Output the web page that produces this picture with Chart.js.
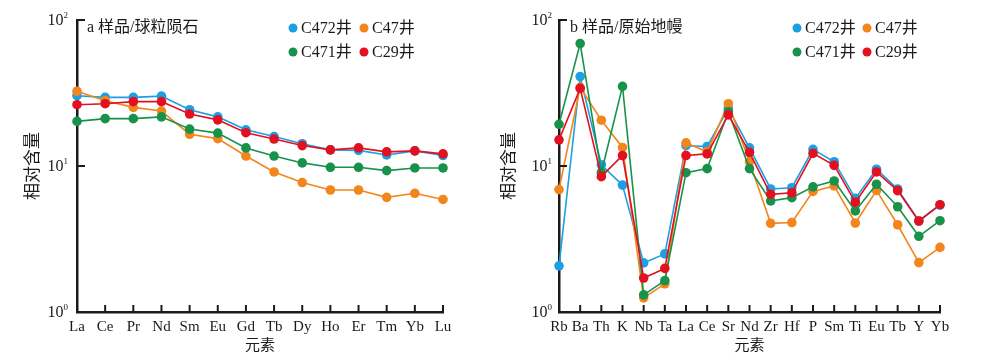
<!DOCTYPE html>
<html lang="zh">
<head>
    <meta charset="UTF-8">
    <title>球粒陨石 / 原始地幔 标准化图</title>
    <script src="https://cdn.jsdelivr.net/npm/chart.js@4.4.1/dist/chart.umd.min.js"></script>
    <style>
        html, body { margin: 0; padding: 0; background: #fff; }
        .wrap { position: relative; width: 1000px; height: 359px; }
        .panel { position: absolute; top: 0; width: 500px; height: 359px; }
    </style>
</head>
<body>
<div class="wrap">
    <div class="panel" style="left:0"><canvas id="chart-a"></canvas></div>
    <div class="panel" style="left:500px"><canvas id="chart-b"></canvas></div>
</div>

<script>
    // 数据
    const seriesNames = ["C472井", "C47井", "C471井", "C29井"];
    const seriesColors = ["#1c9fe3", "#f2861c", "#17924a", "#e3101f"];

    const reeLabels = ["La", "Ce", "Pr", "Nd", "Sm", "Eu", "Gd", "Tb", "Dy", "Ho", "Er", "Tm", "Yb", "Lu"];
    const reeC472 = [30.3, 29.5, 29.5, 30.1, 24.3, 21.7, 17.7, 15.9, 14.2, 12.9, 12.8, 11.9, 12.7, 11.8];
    const reeC47 = [32.5, 28.0, 25.2, 23.8, 16.5, 15.4, 11.7, 9.1, 7.7, 6.85, 6.85, 6.1, 6.5, 5.9];
    const reeC471 = [20.2, 21.1, 21.1, 21.7, 17.9, 16.8, 13.3, 11.7, 10.5, 9.8, 9.8, 9.3, 9.7, 9.7];
    const reeC29 = [26.3, 26.7, 27.6, 27.6, 22.7, 20.7, 16.9, 15.3, 13.8, 12.9, 13.3, 12.5, 12.7, 12.1];

    const traceLabels = ["Rb", "Ba", "Th", "K", "Nb", "Ta", "La", "Ce", "Sr", "Nd", "Zr", "Hf", "P", "Sm", "Ti", "Eu", "Tb", "Y", "Yb"];
    const traceC472 = [2.07, 41, 10.2, 7.4, 2.17, 2.5, 13.8, 13.6, 24.8, 13.3, 6.96, 7.1, 13.0, 10.7, 6.0, 9.5, 6.96, 4.2, 5.4];
    const traceC47 = [6.9, 34.6, 20.6, 13.4, 1.25, 1.56, 14.4, 12.5, 26.7, 10.7, 4.05, 4.1, 6.7, 7.3, 4.07, 6.8, 3.96, 2.18, 2.77];
    const traceC471 = [19.3, 69, 9.0, 35.1, 1.31, 1.64, 9.0, 9.6, 23.5, 9.6, 5.76, 6.07, 7.2, 7.9, 4.92, 7.5, 5.26, 3.3, 4.22];
    const traceC29 = [15.1, 34, 8.45, 11.8, 1.71, 1.99, 11.8, 12.1, 22.4, 12.4, 6.4, 6.56, 12.2, 10.1, 5.64, 9.1, 6.78, 4.2, 5.43];

    const yTicks = [1, 10, 100];

    const SERIF = "'Liberation Serif', 'Times New Roman', 'Noto Sans CJK SC', serif";
    const INK = "#1a1a1a";

    // 坐标轴刻度、10^n 标签、图例、小标题
    const decoPlugin = {
        id: 'deco',
        afterDraw(chart, args, o) {
            const ctx = chart.ctx;
            const xs = chart.scales.x, ys = chart.scales.y, a = chart.chartArea;
            ctx.save();
            ctx.strokeStyle = INK;
            ctx.lineWidth = 2;
            // x 刻度向内
            xs.ticks.forEach((t, i) => {
                const px = xs.getPixelForTick(i);
                ctx.beginPath();
                ctx.moveTo(px, a.bottom);
                ctx.lineTo(px, a.bottom - 7);
                ctx.stroke();
            });
            // y 刻度向内 + 标签
            yTicks.forEach(v => {
                const py = ys.getPixelForValue(v);
                if (v !== 1) {
                    ctx.beginPath();
                    ctx.moveTo(a.left, py);
                    ctx.lineTo(a.left + 8, py);
                    ctx.stroke();
                }
                const exp = String(Math.round(Math.log10(v)));
                ctx.fillStyle = INK;
                ctx.font = "9px " + SERIF;
                const ew = ctx.measureText(exp).width;
                ctx.textAlign = 'left';
                ctx.textBaseline = 'alphabetic';
                const right = a.left - o.labelGap;
                ctx.fillText(exp, right - ew, py - 2);
                ctx.font = "16px " + SERIF;
                ctx.textAlign = 'right';
                ctx.textBaseline = 'middle';
                ctx.fillText("10", right - ew, py + 1);
            });
            // 小标题
            ctx.font = "16px " + SERIF;
            ctx.textAlign = 'left';
            ctx.textBaseline = 'middle';
            ctx.fillStyle = INK;
            ctx.fillText(o.panel, o.panelX, 28);
            // 图例 (两列)
            chart.data.datasets.forEach((ds, i) => {
                const cx = o.legendX[i % 2];
                const cy = i < 2 ? 28 : 52;
                ctx.beginPath();
                ctx.fillStyle = ds.borderColor;
                ctx.arc(cx, cy, 4.5, 0, Math.PI * 2);
                ctx.fill();
                ctx.fillStyle = INK;
                ctx.fillText(ds.label, cx + 8, cy + 1);
            });
            ctx.restore();
        }
    };

    function makeChart(id, labels, series, pad, yWidth, deco) {
        const datasets = series.map((d, i) => ({
            label: seriesNames[i],
            data: d,
            borderColor: seriesColors[i],
            backgroundColor: seriesColors[i],
            borderWidth: 1.6,
            pointRadius: 4.8,
            pointBorderWidth: 0,
            pointHoverRadius: 4.8,
            tension: 0,
            clip: false,
            order: 4 - i
        }));
        return new Chart(document.getElementById(id), {
            type: 'line',
            data: { labels: labels, datasets: datasets },
            plugins: [decoPlugin],
            options: {
                responsive: true,
                maintainAspectRatio: false,
                devicePixelRatio: 1,
                animation: false,
                layout: { padding: pad },
                plugins: {
                    legend: { display: false },
                    tooltip: { enabled: false },
                    deco: deco
                },
                scales: {
                    x: {
                        type: 'category',
                        offset: false,
                        grid: { display: false, drawTicks: false },
                        border: { display: true, color: INK, width: 2.5 },
                        ticks: {
                            autoSkip: false, maxRotation: 0, minRotation: 0,
                            padding: 6, color: INK,
                            font: { family: SERIF, size: 15 }
                        },
                        title: {
                            display: true, text: '元素', color: INK,
                            padding: 0, font: { family: SERIF, size: 15, lineHeight: 1 }
                        },
                        afterFit(s) { s.height = 42; }
                    },
                    y: {
                        type: 'logarithmic',
                        min: 1,
                        max: 100,
                        grid: { display: false, drawTicks: false },
                        border: { display: true, color: INK, width: 2.5 },
                        ticks: { display: false },
                        afterBuildTicks(s) { s.ticks = yTicks.map(v => ({ value: v })); },
                        title: {
                            display: true, text: '相对含量', color: INK,
                            padding: 0, font: { family: SERIF, size: 17, lineHeight: 1 }
                        },
                        afterFit(s) { s.width = yWidth; }
                    }
                }
            }
        });
    }

    makeChart("chart-a", reeLabels, [reeC472, reeC47, reeC471, reeC29],
        { left: 25, right: 57, top: 20, bottom: 5 }, 52,
        { panel: 'a 样品/球粒陨石', panelX: 87, legendX: [293, 364], labelGap: 9 });

    makeChart("chart-b", traceLabels, [traceC472, traceC47, traceC471, traceC29],
        { left: 1, right: 60, top: 20, bottom: 5 }, 58,
        { panel: 'b 样品/原始地幔', panelX: 70, legendX: [297, 367], labelGap: 7 });
</script>
</body>
</html>
